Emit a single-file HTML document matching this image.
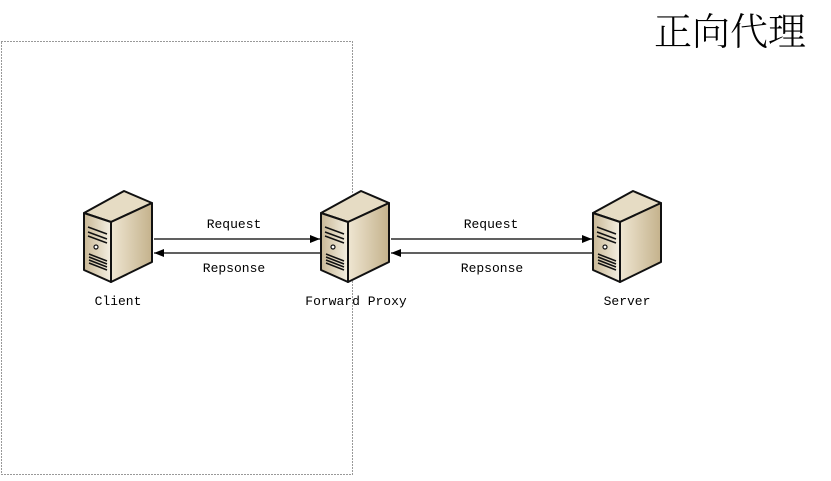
<!DOCTYPE html>
<html><head><meta charset="utf-8"><style>
body{margin:0;background:#fff;width:831px;height:476px;overflow:hidden}
</style></head><body>
<svg width="831" height="476" xmlns="http://www.w3.org/2000/svg">
<defs>
<linearGradient id="fr" x1="0" x2="1" y1="0" y2="0"><stop offset="0" stop-color="#c9b896"/><stop offset="1" stop-color="#f4efe2"/></linearGradient>
<linearGradient id="sd" x1="0" x2="1" y1="0" y2="0"><stop offset="0" stop-color="#efe6d2"/><stop offset="1" stop-color="#c4b28c"/></linearGradient>
<g id="srv" stroke="#111" stroke-width="2" stroke-linejoin="round">
<polygon points="1,23 41,1 69,13 28,32" fill="#e6dcc4"/>
<polygon points="28,32 69,13 69,72 28,92" fill="url(#sd)"/>
<polygon points="1,23 28,32 28,92 1,80" fill="url(#fr)"/>
<g stroke-width="1.5" fill="none">
<path d="M5,37 L24,44 M5,42 L24,49 M5,46 L24,53"/>
<path d="M6,64 L24,71 M6,67 L24,74 M6,70 L24,77 M6,73 L24,80"/>
</g>
<circle cx="13" cy="57" r="2" fill="#fff" stroke-width="1.2"/>
</g>
<marker id="ah" markerWidth="10" markerHeight="8" refX="10" refY="4" orient="auto" markerUnits="userSpaceOnUse"><path d="M0,0 L10,4 L0,8 Z" fill="#000"/></marker>
</defs>
<rect x="1.5" y="41.5" width="351" height="433" fill="none" stroke="#333" stroke-width="1" stroke-dasharray="1,2"/>
<text x="654" y="45" font-family="'Noto Serif CJK SC','Noto Sans CJK SC',serif" font-size="38" font-weight="300">正向代理</text>
<use href="#srv" x="83" y="190"/>
<use href="#srv" x="320" y="190"/>
<use href="#srv" x="592" y="190"/>
<g stroke="#000" stroke-width="1.2">
<line x1="154" y1="239" x2="320" y2="239" marker-end="url(#ah)"/>
<line x1="320" y1="253" x2="154" y2="253" marker-end="url(#ah)"/>
<line x1="391" y1="239" x2="592" y2="239" marker-end="url(#ah)"/>
<line x1="592" y1="253" x2="391" y2="253" marker-end="url(#ah)"/>
</g>
<g font-family="Liberation Mono,monospace" font-size="13" text-anchor="middle">
<text x="234" y="228">Request</text>
<text x="234" y="272">Repsonse</text>
<text x="491" y="228">Request</text>
<text x="492" y="272">Repsonse</text>
<text x="118" y="305">Client</text>
<text x="356" y="305">Forward Proxy</text>
<text x="627" y="305">Server</text>
</g>
</svg>
</body></html>
